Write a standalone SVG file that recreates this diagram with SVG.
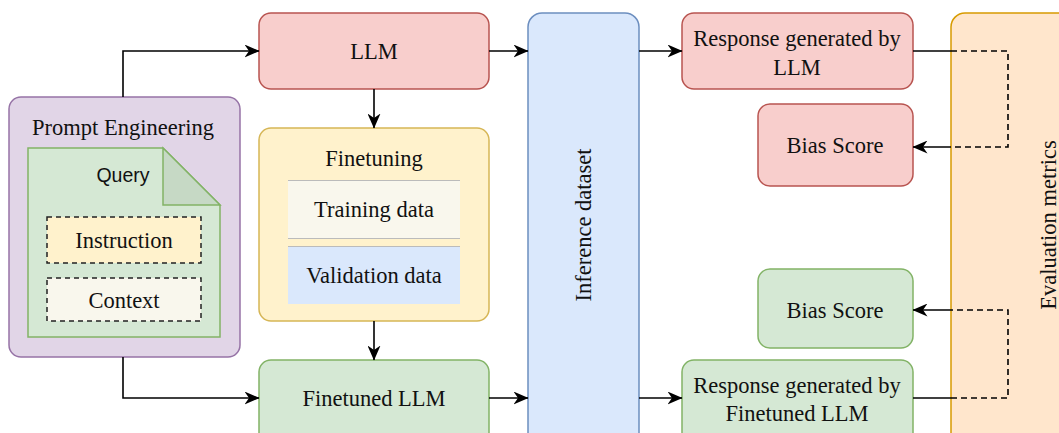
<svg xmlns="http://www.w3.org/2000/svg" width="1059" height="433" viewBox="0 0 1059 433">
<style>
.t{font-family:"Liberation Serif","Times New Roman","DejaVu Serif",serif;font-size:22.5px;fill:#111;text-anchor:middle;dominant-baseline:central}
.s{font-family:"Liberation Sans",Arial,sans-serif;font-size:19.5px;fill:#111;text-anchor:middle;dominant-baseline:central}
.red{fill:#f8cecc;stroke:#b85450;stroke-width:1.5}
.grn{fill:#d5e8d4;stroke:#82b366;stroke-width:1.5}
.yel{fill:#fff2cc;stroke:#d6b656;stroke-width:1.5}
.blu{fill:#dae8fc;stroke:#6c8ebf;stroke-width:1.5}
.org{fill:#ffe6cc;stroke:#d79b00;stroke-width:1.5}
.pur{fill:#e1d5e7;stroke:#9673a6;stroke-width:1.5}
.c{fill:none;stroke:#000;stroke-width:1.6}
.d{fill:none;stroke:#000;stroke-width:1.6;stroke-dasharray:6 4}
</style>
<defs>
<marker id="a" viewBox="0 0 15 13" refX="14.5" refY="6.5" markerWidth="15" markerHeight="13" markerUnits="userSpaceOnUse" orient="auto">
<path d="M0,0 L15,6.5 L0,13 L4.5,6.5 z" fill="#000"/>
</marker>
</defs>
<g id="evaluation-metrics">
<rect class="org" x="951" y="13" width="130" height="440" rx="14"/>
<text class="t" transform="translate(1048,225) rotate(-90)">Evaluation metrics</text>
</g>
<g id="inference-dataset">
<rect class="blu" x="528" y="13" width="111" height="440" rx="14"/>
<text class="t" transform="translate(583,225) rotate(-90)">Inference dataset</text>
</g>
<g id="prompt-engineering">
<rect class="pur" x="9" y="97" width="231" height="260" rx="12"/>
<text class="t" x="123" y="127">Prompt Engineering</text>
</g>
<g id="query">
<path class="grn" d="M28,148 H163 L220,205 V337 H28 Z"/>
<path d="M163,148 L220,205 H163 Z" fill="#c6d9c5" stroke="#82b366" stroke-width="1.5"/>
<text class="s" x="123" y="175">Query</text>
</g>
<g id="instruction">
<rect x="47" y="217" width="154" height="46" fill="#fff2cc" stroke="#222" stroke-width="1.5" stroke-dasharray="5 4"/>
<text class="t" x="124" y="240">Instruction</text>
</g>
<g id="context">
<rect x="47" y="278" width="154" height="43" fill="#f9f7ed" stroke="#222" stroke-width="1.5" stroke-dasharray="5 4"/>
<text class="t" x="124" y="300">Context</text>
</g>
<g id="llm">
<rect class="red" x="259" y="13" width="230" height="76" rx="12"/>
<text class="t" x="374" y="51">LLM</text>
</g>
<g id="finetuning">
<rect class="yel" x="259" y="128" width="230" height="193" rx="12"/>
<text class="t" x="374" y="158">Finetuning</text>
</g>
<g id="training-data">
<rect x="288" y="180" width="172" height="58" fill="#f9f7ed"/>
<line x1="288" y1="180.5" x2="460" y2="180.5" stroke="#bbb" stroke-width="1"/>
<line x1="288" y1="238.5" x2="460" y2="238.5" stroke="#bbb" stroke-width="1"/>
<text class="t" x="374" y="209">Training data</text>
</g>
<g id="validation-data">
<rect x="288" y="246" width="172" height="58" fill="#dae8fc"/>
<line x1="288" y1="246.5" x2="460" y2="246.5" stroke="#bbb" stroke-width="1"/>
<text class="t" x="374" y="275">Validation data</text>
</g>
<g id="finetuned-llm">
<rect class="grn" x="259" y="360" width="230" height="90" rx="12"/>
<text class="t" x="374" y="398">Finetuned LLM</text>
</g>
<g id="response-llm">
<rect class="red" x="682" y="13" width="231" height="76" rx="12"/>
<text class="t" x="797" y="38">Response generated by</text>
<text class="t" x="797" y="67">LLM</text>
</g>
<g id="bias-score-llm">
<rect class="red" x="758" y="104" width="155" height="82" rx="12"/>
<text class="t" x="835" y="145">Bias Score</text>
</g>
<g id="bias-score-finetuned">
<rect class="grn" x="758" y="269" width="155" height="79" rx="12"/>
<text class="t" x="835" y="310">Bias Score</text>
</g>
<g id="response-finetuned">
<rect class="grn" x="682" y="360" width="231" height="90" rx="12"/>
<text class="t" x="797" y="385">Response generated by</text>
<text class="t" x="797" y="413">Finetuned LLM</text>
</g>
<g id="connectors">
<path class="c" d="M123,97 V51 H259" marker-end="url(#a)"/>
<path class="c" d="M123,357 V398 H259" marker-end="url(#a)"/>
<path class="c" d="M374,89 V128" marker-end="url(#a)"/>
<path class="c" d="M374,321 V360" marker-end="url(#a)"/>
<path class="c" d="M489,51 H528" marker-end="url(#a)"/>
<path class="c" d="M489,398 H528" marker-end="url(#a)"/>
<path class="c" d="M639,51 H682" marker-end="url(#a)"/>
<path class="c" d="M639,398 H682" marker-end="url(#a)"/>
<path class="c" d="M913,51 H951"/>
<path class="d" d="M951,51 H1008 V147 H951"/>
<path class="c" d="M951,147 H913" marker-end="url(#a)"/>
<path class="c" d="M913,398 H951"/>
<path class="d" d="M951,398 H1008 V310 H951"/>
<path class="c" d="M951,310 H913" marker-end="url(#a)"/>
</g>
</svg>
